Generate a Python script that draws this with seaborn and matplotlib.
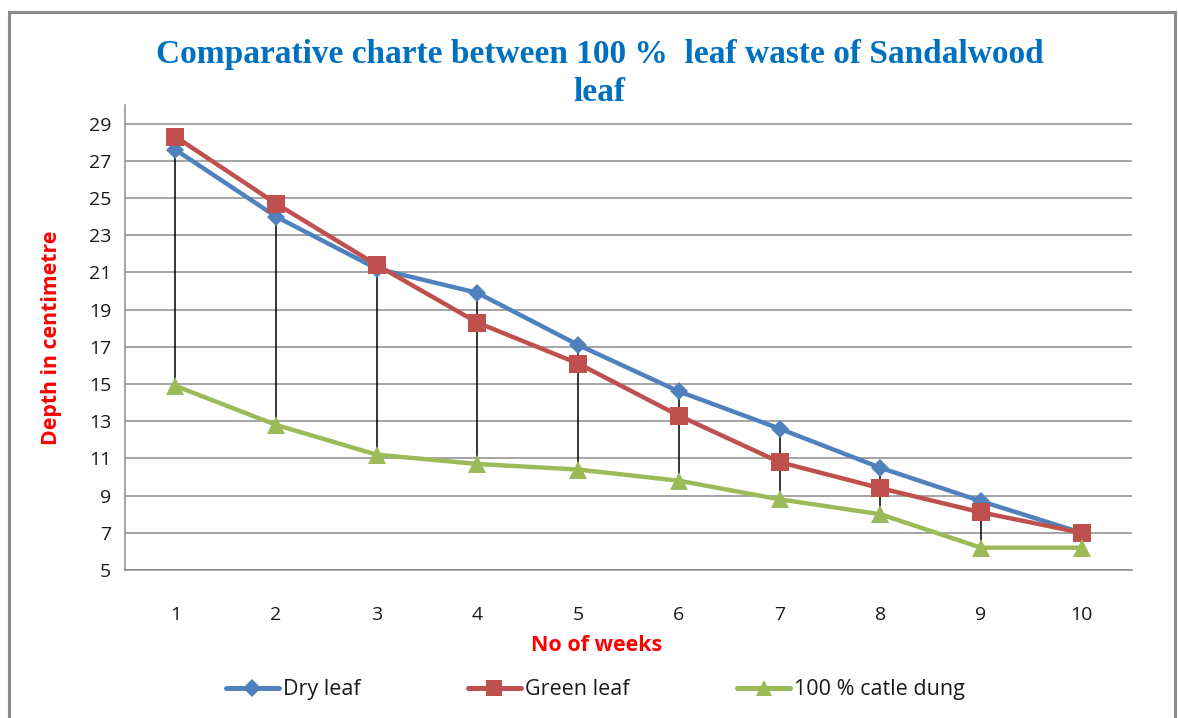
import matplotlib
matplotlib.use("Agg")
import matplotlib.pyplot as plt
import seaborn as sns
import pandas as pd
from matplotlib.patches import Rectangle
from matplotlib.lines import Line2D

weeks = [1, 2, 3, 4, 5, 6, 7, 8, 9, 10]
dry_leaf = [27.6, 24.0, 21.2, 19.9, 17.1, 14.6, 12.6, 10.5, 8.7, 7.0]
green_leaf = [28.3, 24.7, 21.4, 18.3, 16.1, 13.3, 10.8, 9.4, 8.1, 7.0]
cattle_dung = [14.9, 12.8, 11.2, 10.7, 10.4, 9.8, 8.8, 8.0, 6.2, 6.2]
series_names = ["Dry leaf", "Green leaf", "100 % catle dung"]
y_ticks = list(range(5, 30, 2))

sns.set_theme(style="white")
plt.rcParams["font.family"] = ["Open Sans", "DejaVu Sans"]

df = pd.DataFrame({
    "week": weeks * 3,
    "depth": dry_leaf + green_leaf + cattle_dung,
    "series": [series_names[0]] * 10 + [series_names[1]] * 10 + [series_names[2]] * 10,
})

fig = plt.figure(figsize=(11.78, 7.18), dpi=100)
ax = fig.add_axes([125 / 1178, 1 - 570 / 718, (1132 - 125) / 1178, (570 - 105) / 718])

ax.set_axisbelow(True)
ax.yaxis.grid(True, color="#8c8c8c", linewidth=1.1)
ax.xaxis.grid(False)

# high-low lines
highs = [max(a, b, c) for a, b, c in zip(dry_leaf, green_leaf, cattle_dung)]
lows = [min(a, b, c) for a, b, c in zip(dry_leaf, green_leaf, cattle_dung)]
ax.vlines(weeks, lows, highs, colors="black", linewidth=1.1, zorder=2)

palette = {series_names[0]: "#4F81BD", series_names[1]: "#C0504D", series_names[2]: "#9BBB59"}
markers = {series_names[0]: "D", series_names[1]: "s", series_names[2]: "^"}
sizes = {series_names[0]: 9.5, series_names[1]: 13, series_names[2]: 13}
sns.lineplot(data=df, x="week", y="depth", hue="series", style="series",
             palette=palette, markers=markers, dashes=False, linewidth=3.2,
             markersize=11, markeredgewidth=0, ax=ax, legend=False, zorder=3)
for line, nm in zip(ax.get_lines(), series_names):
    line.set_markersize(sizes[nm])

ax.set_xlim(0.5, 10.5)
ax.set_ylim(5, 30)
ax.set_yticks(y_ticks)
ax.set_xticks(weeks)
ax.tick_params(axis="y", which="major", direction="out", length=6, width=1,
               color="#8c8c8c", labelsize=14, labelcolor="#1a1a1a", pad=4)
ax.tick_params(axis="x", length=0, labelsize=14, labelcolor="#1a1a1a", pad=26)
for s in ["top", "right"]:
    ax.spines[s].set_visible(False)
for s in ["left", "bottom"]:
    ax.spines[s].set_color("#8c8c8c")
    ax.spines[s].set_linewidth(1.1)

ax.set_xlabel("No of weeks", color="#FF0000", fontsize=15.5, fontweight="bold", labelpad=8)
ax.xaxis.label.set_x((597 - 125) / 1007)
ax.set_ylabel("Depth in centimetre", color="#FF0000", fontsize=15.3, fontweight="bold", labelpad=19)

fig.text(0.509, 0.898, "Comparative charte between 100 %  leaf waste of Sandalwood\nleaf",
         ha="center", va="center", color="#0070C0", fontsize=24, fontweight="bold",
         family="Liberation Serif", linespacing=1.28)

handles = [Line2D([0], [0], color=palette[n], marker=markers[n], linewidth=3.6,
                  markersize=9 if n == "Dry leaf" else 12, markeredgewidth=0) for n in series_names]
fig.legend(handles, series_names, loc="center", bbox_to_anchor=(0.5055, 0.039), ncol=3,
           frameon=False, fontsize=15.5, columnspacing=5.0, handlelength=2.45, handletextpad=0.2,
           labelcolor="#1a1a1a")

fig.add_artist(Rectangle((9 / 1178, -0.01), (1175 - 9) / 1178, 1 - 12 / 718 + 0.01,
                         transform=fig.transFigure, fill=False, edgecolor="#8c8c8c", linewidth=2.2))

fig.savefig("out.png", dpi=100)
